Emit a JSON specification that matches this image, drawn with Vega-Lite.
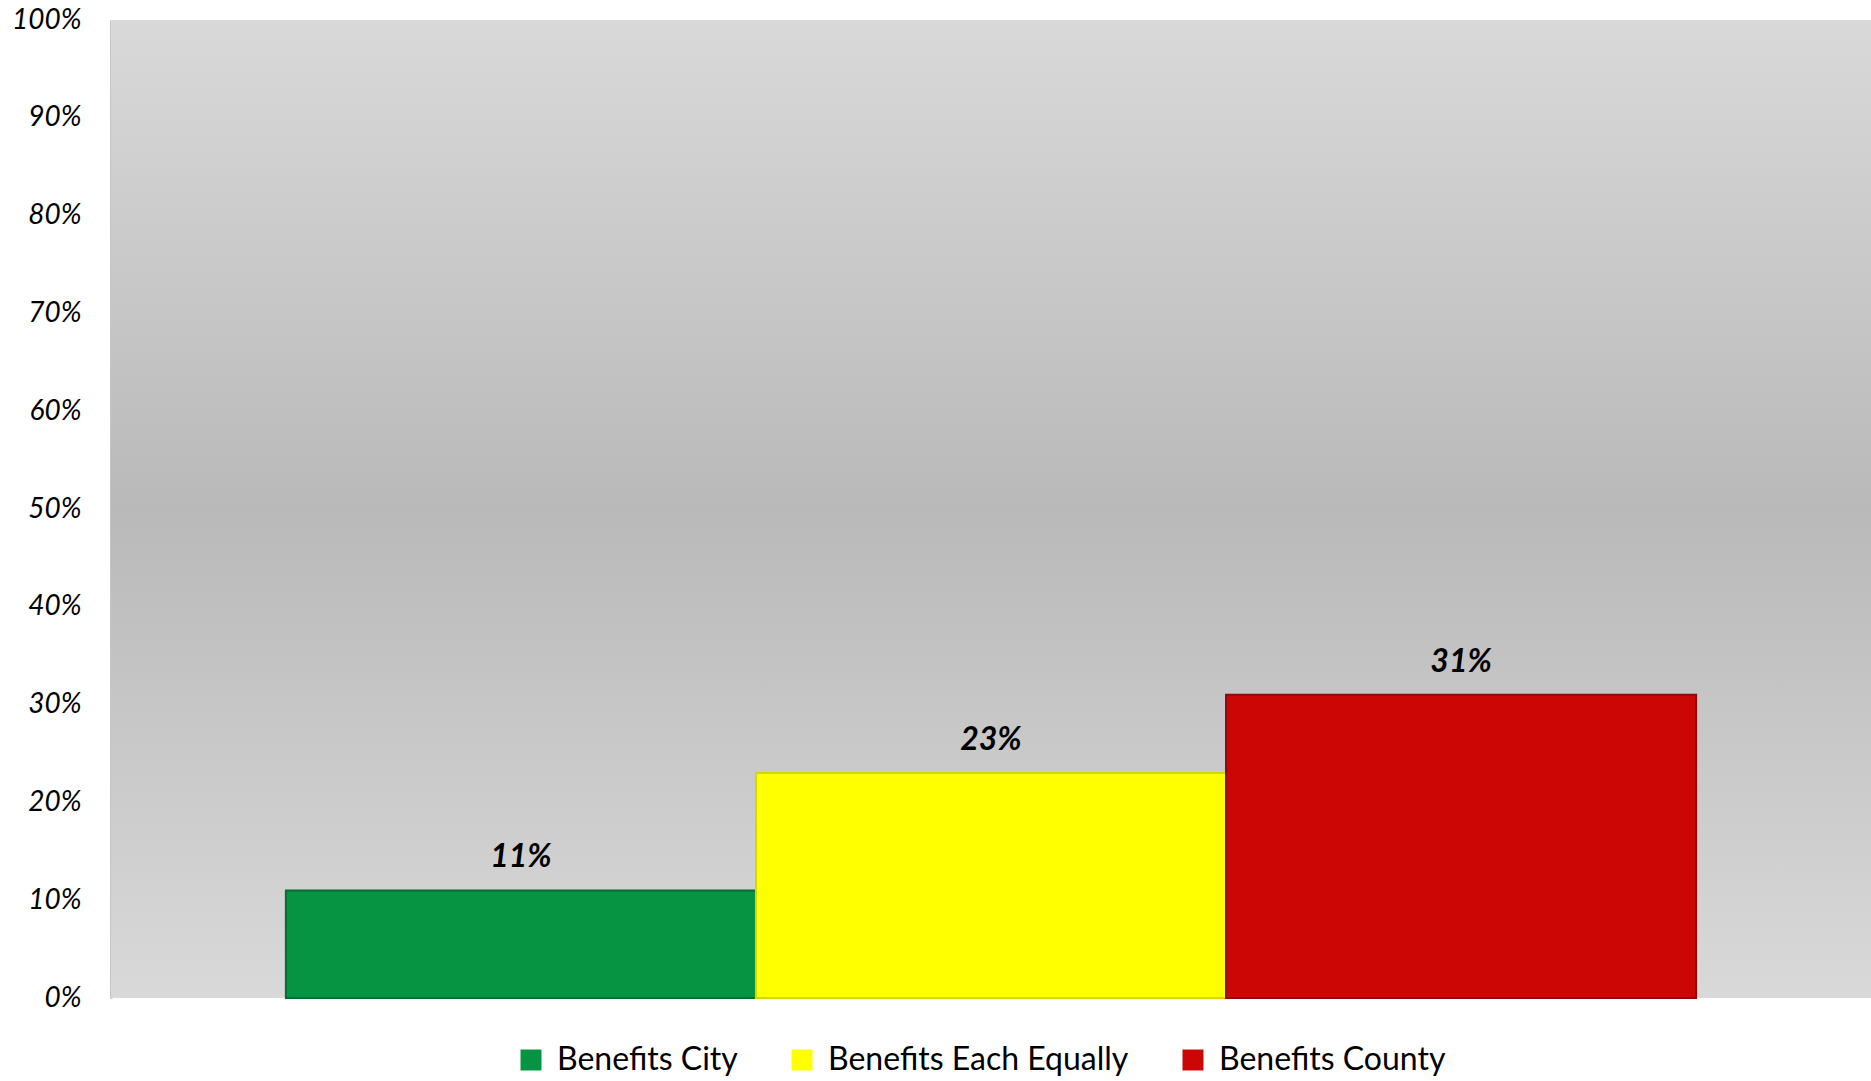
{
  "$schema": "https://vega.github.io/schema/vega-lite/v6.json",
  "autosize": {"type": "none"},
  "width": 1760,
  "height": 978,
  "padding": {"left": 111, "top": 20, "right": 0, "bottom": 83},
  "background": "white",
  "config": {
    "view": {"stroke": null},
    "font": "Lato"
  },
  "data": {
    "values": [
      {"category": "Benefits City", "pct": 0.11},
      {"category": "Benefits Each Equally", "pct": 0.23},
      {"category": "Benefits County", "pct": 0.31}
    ]
  },
  "layer": [
    {
      "mark": {
        "type": "rect",
        "color": {
          "gradient": "linear",
          "x1": 0, "y1": 0, "x2": 0, "y2": 1,
          "stops": [
            {"offset": 0, "color": "#d9d9d9"},
            {"offset": 0.5, "color": "#b9b9b9"},
            {"offset": 1, "color": "#d9d9d9"}
          ]
        }
      },
      "encoding": {
        "x": {"value": 0},
        "x2": {"value": "width"},
        "y": {"value": 0},
        "y2": {"value": "height"}
      }
    },
    {
      "mark": {"type": "bar", "strokeWidth": 2},
      "encoding": {
        "x": {
          "field": "category",
          "type": "nominal",
          "sort": ["Benefits City", "Benefits Each Equally", "Benefits County"],
          "scale": {"paddingInner": 0, "paddingOuter": 0.372},
          "axis": null
        },
        "y": {
          "field": "pct",
          "type": "quantitative",
          "scale": {"domain": [0, 1], "nice": false},
          "axis": {
            "values": [0, 0.1, 0.2, 0.3, 0.4, 0.5, 0.6, 0.7, 0.8, 0.9, 1],
            "format": ".0%",
            "grid": false,
            "ticks": false,
            "domainColor": "#8c8c8c",
            "domainWidth": 2,
            "labelFont": "Lato",
            "labelFontStyle": "italic",
            "labelFontSize": 28,
            "labelColor": "#000000",
            "labelPadding": 30,
            "title": null
          }
        },
        "color": {
          "field": "category",
          "type": "nominal",
          "scale": {
            "domain": ["Benefits City", "Benefits Each Equally", "Benefits County"],
            "range": ["#069442", "#ffff00", "#cc0505"]
          },
          "legend": {
            "title": null,
            "orient": "none",
            "legendX": 404,
            "legendY": 1024,
            "direction": "horizontal",
            "symbolType": "square",
            "symbolSize": 440,
            "symbolStrokeWidth": 0,
            "symbolOpacity": 1,
            "labelFont": "Lato",
            "labelFontSize": 32,
            "labelColor": "#000000",
            "labelOffset": 10,
            "columnPadding": 48,
            "labelLimit": 400
          }
        },
        "stroke": {
          "field": "category",
          "type": "nominal",
          "scale": {
            "domain": ["Benefits City", "Benefits Each Equally", "Benefits County"],
            "range": ["#0b6b30", "#d6d600", "#8e0a0a"]
          },
          "legend": null
        }
      }
    },
    {
      "mark": {
        "type": "text",
        "font": "Lato",
        "fontSize": 32,
        "fontWeight": "bold",
        "fontStyle": "italic",
        "baseline": "middle",
        "dy": -33,
        "color": "#000000"
      },
      "encoding": {
        "x": {
          "field": "category",
          "type": "nominal",
          "sort": ["Benefits City", "Benefits Each Equally", "Benefits County"]
        },
        "y": {"field": "pct", "type": "quantitative"},
        "text": {"field": "pct", "type": "quantitative", "format": ".0%"}
      }
    }
  ]
}
